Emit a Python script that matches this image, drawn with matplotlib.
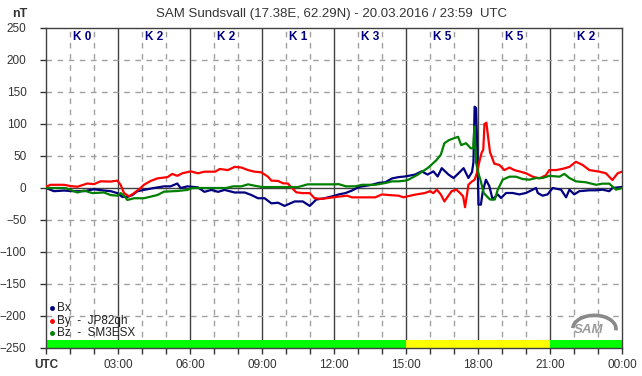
import numpy as np
import matplotlib
matplotlib.use("Agg")
import matplotlib.pyplot as plt
from matplotlib.patches import Arc

plt.rcParams['font.family'] = ['Liberation Sans', 'DejaVu Sans']

# Bx (blue)
t_bx = [0.0, 0.33, 0.75, 1.17, 1.58, 2.0, 2.42, 2.7, 2.97, 3.18, 3.39, 3.6, 3.81, 4.08, 4.5,
        4.92, 5.19, 5.47, 5.61, 5.89, 6.33, 6.6, 6.89, 7.17, 7.44, 7.86, 8.28, 8.56, 8.83,
        9.11, 9.39, 9.67, 9.94, 10.36, 10.7, 10.99, 11.26, 11.61, 12.03, 12.2, 12.47, 12.75,
        13.03, 13.58, 13.86, 14.14, 14.42, 14.69, 14.96, 15.38, 15.65, 15.9, 16.14, 16.32,
        16.49, 16.77, 16.98, 17.19, 17.4, 17.6, 17.75, 17.81, 17.86, 17.92, 17.97, 18.02,
        18.12, 18.2, 18.33, 18.47, 18.61, 18.82, 18.96, 19.17, 19.44, 19.72, 20.0, 20.28,
        20.42, 20.49, 20.69, 20.9, 21.11, 21.46, 21.67, 21.81, 22.01, 22.22, 22.64, 22.92,
        23.19, 23.47, 23.6, 24.0]
v_bx = [0, -5, -4, -5, -5, -2, -4, -5, -8, -14, -14, -11, -5, -3, 0,
        2.6, 2.6, 7, 0, 2.6, 1, -6, -3, -6, -3, -7, -7, -11, -16,
        -16, -24, -23, -28, -21, -21, -28, -18, -16, -12, -10, -8, -4,
        1.6, 5, 8, 9, 15, 17, 18, 21, 26, 21, 26, 18,
        31, 21, 15.6, 23, 31, 15.6, 25, 40, 127, 125, 60, -26,
        -26, -5, 13, 3, -18, -10, -15.6, -7.8, -7.8, -10, -7.8, -2.6,
        0, -7.8, -12, -10, 0, -2.6, -14.6, -2.6, -10, -5, -3.6, -3.6,
        -2.6, -5, 0, 1.6]

# By (red)
t_by = [0.0, 0.19, 0.75, 1.03, 1.31, 1.72, 2.0, 2.28, 2.69, 2.97, 3.11, 3.25, 3.46, 3.67, 3.94,
        4.08, 4.36, 4.64, 5.06, 5.26, 5.47, 5.68, 6.03, 6.33, 6.6, 7.05, 7.24, 7.58, 7.86,
        8.14, 8.42, 8.69, 8.97, 9.25, 9.39, 9.67, 9.88, 10.08, 10.22, 10.43, 10.7, 10.99,
        11.19, 11.47, 11.89, 12.2, 12.54, 12.75, 13.17, 13.72, 14.0, 14.28, 14.69, 14.9,
        15.0, 15.38, 15.79, 16.0, 16.14, 16.28, 16.45, 16.6, 16.75, 16.9, 17.1, 17.25, 17.38,
        17.46, 17.53, 17.6, 17.74, 17.86, 17.95, 18.05, 18.15, 18.22, 18.27, 18.35, 18.42,
        18.5, 18.68, 18.89, 19.1, 19.31, 19.51, 19.72, 20.0, 20.28, 20.56, 20.83, 20.97,
        21.25, 21.53, 21.81, 22.08, 22.36, 22.64, 23.06, 23.33, 23.6, 23.82, 24.0]
v_by = [2, 5, 5, 3, 2, 7, 6, 10.5, 10, 11.5, 5, -8, -13, -8, 0,
        5, 11, 15, 17, 22, 19, 23, 26, 23, 25.5, 25.5, 29.7, 28, 33,
        32, 28, 25.5, 24.5, 17.7, 11.5, 11, 7.3, 7, 1, -6.8, -8, -8,
        -16, -17, -15, -13.5, -12, -14.6, -14.6, -14.6, -10, -11, -12, -14.6,
        -13.5, -10.4, -7.8, -5, -8, -2.6, -10, -21, -13, -5, -2.6, -7.8, -13,
        -30, -13, 5, 10, 13, 23, 40, 55, 60, 100, 102, 80,
        56, 38, 36, 28, 32, 28, 26, 23, 17.7, 15, 20, 28,
        28, 30, 33, 41, 36, 28, 25.5, 23, 12.5, 23, 25.5]

# Bz (green)
t_bz = [0.0, 0.8, 1.03, 1.31, 1.58, 1.94, 2.42, 2.69, 2.97, 3.11, 3.25, 3.39, 3.67, 4.08,
        4.64, 4.92, 5.47, 5.89, 6.1, 7.5, 7.8, 8.14, 8.42, 8.69, 9.0, 10.5, 10.9, 11.1, 12.0,
        12.2, 12.5, 12.89, 13.17, 13.72, 14.14, 14.42, 14.69, 14.96, 15.1, 15.5, 15.65,
        15.9, 16.05, 16.28, 16.45, 16.6, 16.8, 17.17, 17.3, 17.5, 17.7, 17.8, 17.85, 17.92,
        18.0, 18.1, 18.24, 18.5, 18.7, 18.82, 19.03, 19.31, 19.58, 19.86, 20.14, 20.42,
        20.69, 20.97, 21.39, 21.6, 21.81, 22.08, 22.5, 22.92, 23.19, 23.47, 23.75, 24.0]
v_bz = [0, 0, -3, -7, -4, -8, -7, -11, -12, -8, -12, -18.7, -16, -16,
        -11, -5.7, -4.7, -3, 0, 0, 2.6, 2.6, 5.7, 3.6, 1.5, 1.5, 5.7, 5.7, 5.7,
        6, 2.6, 2.6, 5, 5, 7.8, 10.4, 10.4, 11.5, 13, 21, 25,
        31, 36, 44, 52, 70, 75, 80, 67, 70, 62, 62, 96, 40,
        25, 13, -8, -18, -18, -3, 13, 17.7, 17.7, 14, 13, 15.6,
        15.6, 19, 17.7, 22, 15.6, 10.4, 8.9, 5, 6.8, 6.8, -2.6, 0]

k_index = [0, 2, 2, 1, 3, 5, 5, 2]
band_start = [0, 15, 21]
band_end = [15, 21, 24]
band_color = ['#00ff00', '#ffff00', '#00ff00']

xtick_labels = ['UTC', '03:00', '06:00', '09:00', '12:00', '15:00', '18:00', '21:00', '00:00']

fig = plt.figure(figsize=(6.42, 3.76), dpi=100)
ax = fig.add_axes([46/642, 28/376, 576/642, 320/376])

ax.set_xlim(0, 24)
ax.set_ylim(-250, 250)

# grid
for h in range(1, 24):
    if h % 3 == 0:
        ax.axvline(h, color='#404040', lw=1, zorder=1)
    else:
        ax.axvline(h, color='#a0a0a0', lw=1, ls=(0, (4, 4)), zorder=1)
for y in range(-200, 250, 50):
    if y == 0:
        ax.axhline(y, color='#404040', lw=1, zorder=1)
    else:
        ax.axhline(y, color='#a0a0a0', lw=1, ls=(0, (4, 4)), zorder=1)

for s, e, c in zip(band_start, band_end, band_color):
    ax.axvspan(s, e, ymin=0, ymax=0.026, color=c, lw=0, zorder=2)

ax.plot(t_bx, v_bx, color='#000080', lw=1.6, zorder=3)
ax.plot(t_by, v_by, color='#ff0000', lw=1.6, zorder=3)
ax.plot(t_bz, v_bz, color='#008000', lw=1.6, zorder=3)

for i, k in enumerate(k_index):
    ax.text(3*i + 1.5, 236, 'K %d' % k, color='#000080', fontsize=8.5,
            fontweight='bold', ha='center', va='center', zorder=4)

ax.set_xticks(range(0, 25, 3))
ax.set_xticklabels(xtick_labels)
ax.set_xticks(range(0, 25), minor=True)
ax.set_yticks(range(-250, 251, 50))
ax.tick_params(axis='both', labelsize=8.5, colors='#333333', length=4, width=1)
ax.tick_params(axis='x', which='minor', length=4, width=1, colors='#333333')
ax.tick_params(axis='y', pad=10)
ax.tick_params(axis='x', pad=4)
ax.get_xticklabels()[0].set_fontweight('bold')
for sp in ax.spines.values():
    sp.set_color('#404040')
    sp.set_linewidth(1)

# legend
leg_names = ['Bx', 'By  -  JP82qh', 'Bz  -  SM3ESX']
leg_colors = ['#000080', '#ff0000', '#008000']
for i, (n, c) in enumerate(zip(leg_names, leg_colors)):
    yy = -188 - i * 19.5
    ax.plot([0.25], [yy], marker='o', ms=2.5, color=c, zorder=5)
    ax.text(0.45, yy, n, fontsize=8.5, color='#222222', va='center', ha='left', zorder=5)

# logo
ax.add_patch(Arc((22.85, -220), 1.8, 42, theta1=-70, theta2=130, color='#8a8a8a',
                 lw=2.6, zorder=5))
ax.text(22.6, -222, 'SAM', fontsize=9.5, fontstyle='italic', fontweight='bold',
        color='#9a9a9a', ha='center', va='center', zorder=6)

fig.text(12/642, 1 - 14/376, 'nT', fontsize=9, fontweight='bold', color='#333333',
         ha='left', va='center')
fig.text(332/642, 1 - 14/376, 'SAM Sundsvall (17.38E, 62.29N) - 20.03.2016 / 23:59  UTC',
         fontsize=9.5, color='#333333', ha='center', va='center')

fig.savefig('out.png', dpi=100, facecolor='white')
